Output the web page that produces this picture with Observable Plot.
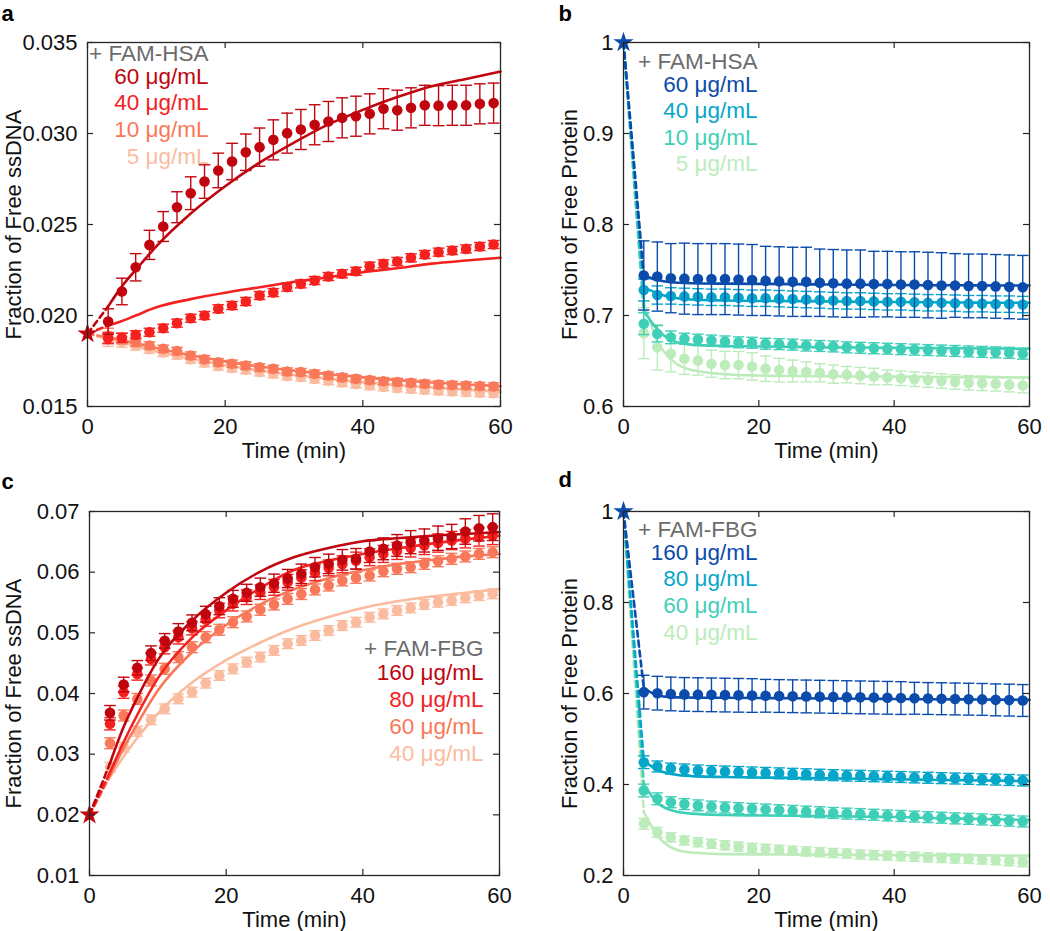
<!DOCTYPE html>
<html><head><meta charset="utf-8">
<script src="https://cdn.jsdelivr.net/npm/d3@7"></script>
<script src="https://cdn.jsdelivr.net/npm/@observablehq/plot@0.6"></script>
<style>
body{margin:0;background:#fff;}
#wrap{position:relative;width:1050px;height:931px;overflow:hidden;}
.pnl{position:absolute;}
</style></head><body><div id="wrap"></div>
<script>
// ---------- shared ----------
const times = [3,5,7,9,11,13,15,17,19,21,23,25,27,29,31,33,35,37,39,41,43,45,47,49,51,53,55,57,59];
const fitTimes = [3,5,7,10,15,20,25,30,35,40,45,50,55,60];
const xTicks = [0,20,40,60];
const redColors = ["#c0050f","#f4211f","#f9785a","#fbbb9f"];
const blueColors = ["#0a4bab","#05a6c9","#3fcfb7","#bdecbb"];
const starRed = "#c0050f", starBlue = "#0a4bab";
const hsaLabels = ["60 μg/mL","40 μg/mL","10 μg/mL","5 μg/mL"];
const fbgLabels = ["160 μg/mL","80 μg/mL","60 μg/mL","40 μg/mL"];

// ---------- panel a : free ssDNA, + FAM-HSA ----------
const aTicks = [0.015,0.02,0.025,0.03,0.035];
const aStart = 0.019;
const a60 = [0.01967,0.02132,0.02265,0.02388,0.02489,0.02595,0.02672,0.02736,0.02797,0.02846,0.02897,0.02925,0.02965,0.03002,0.03022,0.03048,0.03066,0.03086,0.03095,0.03108,0.03136,0.03128,0.03141,0.03155,0.03153,0.03155,0.03155,0.03163,0.03167];
const a60err = [0.0007,0.00073,0.00075,0.0008,0.00082,0.00085,0.0009,0.00092,0.00095,0.001,0.001,0.00105,0.0011,0.0011,0.0011,0.0011,0.0011,0.0011,0.0011,0.0011,0.0011,0.0011,0.0011,0.0011,0.0011,0.0011,0.0011,0.0011,0.0011];
const a60fit = [0.0205,0.0216,0.0225,0.0238,0.0256,0.0271,0.0284,0.0295,0.0305,0.0313,0.0320,0.0326,0.0330,0.0334];
const a40 = [0.01875,0.01877,0.01894,0.01908,0.0193,0.01958,0.01985,0.0200,0.02037,0.02055,0.02077,0.0211,0.02126,0.02156,0.02174,0.02192,0.02214,0.02229,0.02243,0.02271,0.02284,0.02297,0.02317,0.02335,0.02348,0.02357,0.02366,0.02379,0.0239];
const a40err = [0.0003,0.00025,0.00022,0.00022,0.00022,0.00022,0.00022,0.00022,0.00022,0.00022,0.00022,0.00022,0.00022,0.00022,0.00022,0.00022,0.00022,0.00022,0.00022,0.00022,0.00022,0.00022,0.00022,0.00022,0.00022,0.00022,0.00022,0.00022,0.00022];
const a40fit = [0.01945,0.0197,0.0200,0.02045,0.0209,0.02125,0.02155,0.02185,0.0221,0.02238,0.0226,0.02285,0.02302,0.02317];
const a10 = [0.0189,0.01874,0.01855,0.01835,0.01817,0.01805,0.0178,0.0176,0.01743,0.01735,0.01725,0.01715,0.01707,0.01692,0.01689,0.0168,0.0167,0.0166,0.01652,0.01645,0.01639,0.01635,0.0163,0.01625,0.01621,0.01618,0.01615,0.01612,0.0161];
const a10err = [0.0004,0.0003,0.00025,0.0002,0.0002,0.0002,0.0002,0.0002,0.0002,0.0002,0.0002,0.0002,0.0002,0.0002,0.0002,0.0002,0.0002,0.0002,0.0002,0.0002,0.0002,0.0002,0.0002,0.0002,0.0002,0.0002,0.0002,0.0002,0.0002];
const a10fit = [0.0188,0.01865,0.01848,0.01822,0.01782,0.01748,0.0172,0.01697,0.01678,0.0166,0.01645,0.01632,0.01621,0.01612];
const a5 = [0.0187,0.01855,0.01835,0.01815,0.01797,0.01783,0.0176,0.0174,0.01722,0.01712,0.01702,0.0169,0.0168,0.01668,0.01662,0.01652,0.01642,0.01632,0.01624,0.01615,0.01608,0.01602,0.01597,0.01592,0.01587,0.01583,0.01579,0.01576,0.01573];
const a5err = [0.0004,0.0003,0.00025,0.00022,0.00022,0.00022,0.00022,0.00022,0.00022,0.00022,0.00022,0.00022,0.00022,0.00022,0.00022,0.00022,0.00022,0.00022,0.00022,0.00022,0.00022,0.00022,0.00022,0.00022,0.00022,0.00022,0.00022,0.00022,0.00022];
const a5fit = [0.0187,0.01852,0.01832,0.01803,0.01762,0.01727,0.01698,0.01673,0.01652,0.01634,0.01618,0.01604,0.01592,0.0158];

// ---------- panel b : free protein, + FAM-HSA ----------
const bTicks = [0.6,0.7,0.8,0.9,1];
const bStart = 1;
const b60 = [0.744,0.7428,0.741,0.7405,0.740,0.740,0.740,0.7395,0.739,0.738,0.7375,0.737,0.737,0.736,0.7355,0.735,0.735,0.7345,0.7345,0.734,0.734,0.7335,0.733,0.733,0.7325,0.7325,0.732,0.7315,0.731];
const b60err = [0.038,0.038,0.038,0.039,0.039,0.039,0.039,0.039,0.039,0.038,0.038,0.038,0.038,0.037,0.037,0.037,0.037,0.036,0.036,0.036,0.036,0.036,0.036,0.035,0.035,0.035,0.035,0.035,0.035];
const b60fit = [0.744,0.739,0.7366,0.7355,0.735,0.7348,0.7345,0.734,0.7338,0.7335,0.7333,0.7332,0.733,0.733];
const b40 = [0.728,0.7225,0.7215,0.721,0.7205,0.720,0.720,0.7195,0.719,0.719,0.7185,0.718,0.7175,0.717,0.7165,0.716,0.716,0.7155,0.715,0.715,0.7145,0.714,0.714,0.7135,0.713,0.713,0.7125,0.7125,0.712];
const b40err = [0.012,0.01,0.009,0.009,0.009,0.009,0.009,0.009,0.009,0.009,0.009,0.009,0.009,0.009,0.009,0.009,0.009,0.009,0.009,0.009,0.009,0.009,0.009,0.009,0.009,0.009,0.009,0.009,0.009];
const b40fit = [0.731,0.7245,0.720,0.7175,0.7165,0.716,0.7158,0.7155,0.715,0.7148,0.7145,0.7143,0.714,0.714];
const b10 = [0.691,0.68,0.676,0.6745,0.6735,0.6725,0.6715,0.6705,0.670,0.669,0.6685,0.668,0.667,0.6665,0.666,0.665,0.6645,0.664,0.6635,0.663,0.6625,0.662,0.6615,0.661,0.6605,0.660,0.6595,0.659,0.658];
const b10err = [0.012,0.009,0.007,0.006,0.006,0.006,0.006,0.006,0.006,0.006,0.006,0.006,0.006,0.006,0.006,0.006,0.006,0.006,0.006,0.006,0.006,0.006,0.006,0.006,0.006,0.006,0.006,0.006,0.006];
const b10fit = [0.705,0.685,0.673,0.668,0.6665,0.666,0.6655,0.665,0.6648,0.6645,0.6642,0.664,0.6637,0.6634];
const b5 = [0.6806,0.665,0.658,0.6525,0.6505,0.647,0.6455,0.6455,0.644,0.6415,0.640,0.639,0.638,0.637,0.6355,0.635,0.634,0.633,0.632,0.631,0.630,0.629,0.628,0.627,0.626,0.6255,0.625,0.624,0.623];
const b5err = [0.028,0.025,0.02,0.017,0.016,0.015,0.015,0.015,0.015,0.014,0.013,0.012,0.011,0.01,0.01,0.009,0.009,0.009,0.008,0.008,0.008,0.008,0.008,0.008,0.008,0.008,0.008,0.008,0.008];
const b5fit = [0.7146,0.672,0.652,0.640,0.6355,0.634,0.6335,0.6333,0.633,0.6328,0.6325,0.6323,0.632,0.632];

// ---------- panel c : free ssDNA, + FAM-FBG ----------
const cTicks = [0.01,0.02,0.03,0.04,0.05,0.06,0.07];
const cStart = 0.02;
const c160 = [0.03682,0.04148,0.04423,0.04665,0.04868,0.05022,0.05165,0.05308,0.05439,0.0556,0.0566,0.05752,0.05818,0.05895,0.05973,0.06082,0.06137,0.06203,0.0622,0.0634,0.06385,0.0644,0.06495,0.06522,0.0656,0.06588,0.0667,0.06725,0.06742];
const c160err = [0.0012,0.0012,0.0012,0.0012,0.0012,0.0013,0.0013,0.0013,0.0014,0.0014,0.0014,0.0015,0.0015,0.0015,0.0016,0.0016,0.0016,0.0017,0.0017,0.0018,0.0018,0.0018,0.0019,0.0019,0.002,0.002,0.0021,0.0021,0.0022];
const c160fit = [0.0285,0.0345,0.0393,0.0455,0.052,0.0566,0.0601,0.0625,0.064,0.0651,0.0656,0.066,0.0663,0.0666];
const c80 = [0.035,0.0402,0.0432,0.0457,0.04763,0.04927,0.05075,0.0522,0.05368,0.0548,0.05587,0.0567,0.0575,0.05834,0.0591,0.0599,0.0607,0.0613,0.0619,0.06247,0.063,0.0635,0.064,0.0644,0.0648,0.06522,0.0655,0.0658,0.06604];
const c80err = [0.001,0.001,0.001,0.001,0.0011,0.0011,0.0011,0.0011,0.0012,0.0012,0.0012,0.0012,0.0013,0.0013,0.0013,0.0013,0.0013,0.0014,0.0014,0.0014,0.0014,0.0014,0.0015,0.0015,0.0015,0.0015,0.0015,0.0015,0.0015];
const c80fit = [0.027,0.032,0.0365,0.0425,0.0492,0.0537,0.0574,0.0604,0.0619,0.063,0.0639,0.0647,0.0654,0.066];
const c60 = [0.0318,0.03637,0.0391,0.04214,0.04407,0.046,0.04763,0.04928,0.0505,0.05175,0.0527,0.0538,0.05467,0.0556,0.0564,0.05715,0.0578,0.05863,0.05907,0.05945,0.06016,0.06055,0.06082,0.06137,0.0618,0.0622,0.06258,0.06302,0.06329];
const c60err = [0.0009,0.0009,0.0009,0.0009,0.0009,0.0009,0.0009,0.0009,0.0009,0.0009,0.0009,0.0009,0.0009,0.0009,0.0009,0.0009,0.0009,0.0009,0.0009,0.0009,0.0009,0.0009,0.0009,0.0009,0.0009,0.0009,0.0009,0.0009,0.0009];
const c60fit = [0.0265,0.031,0.035,0.0405,0.0468,0.0513,0.0547,0.0572,0.059,0.0603,0.0613,0.062,0.0626,0.063];
const c40 = [0.02784,0.03114,0.03378,0.03566,0.03747,0.03912,0.04022,0.0417,0.04297,0.04407,0.04517,0.046,0.0471,0.0482,0.04874,0.04956,0.05038,0.0512,0.05175,0.05257,0.05312,0.05368,0.05411,0.05467,0.05505,0.05533,0.05577,0.05615,0.05643];
const c40err = [0.0008,0.0008,0.0008,0.0008,0.0008,0.0008,0.0008,0.0008,0.0008,0.0008,0.0008,0.0008,0.0008,0.0008,0.0008,0.0008,0.0008,0.0008,0.0008,0.0008,0.0008,0.0008,0.0008,0.0008,0.0008,0.0008,0.0008,0.0008,0.0008];
const c40fit = [0.0262,0.0296,0.0327,0.0367,0.0418,0.0455,0.0484,0.0508,0.0526,0.0541,0.0552,0.056,0.0566,0.0572];

// ---------- panel d : free protein, + FAM-FBG ----------
const dTicks = [0.2,0.4,0.6,0.8,1];
const dStart = 1;
const d160 = [0.603,0.6007,0.599,0.598,0.5975,0.597,0.5965,0.596,0.5956,0.595,0.5945,0.594,0.5935,0.593,0.5925,0.592,0.5915,0.591,0.5905,0.590,0.5895,0.589,0.5885,0.588,0.5875,0.587,0.586,0.5855,0.5846];
const d160err = [0.037,0.037,0.037,0.037,0.037,0.037,0.037,0.037,0.037,0.036,0.036,0.036,0.036,0.036,0.036,0.036,0.036,0.036,0.036,0.036,0.035,0.035,0.035,0.035,0.035,0.035,0.035,0.035,0.035];
const d160fit = [0.612,0.596,0.592,0.591,0.5905,0.590,0.5895,0.589,0.5885,0.588,0.5875,0.587,0.5865,0.586];
const d80 = [0.449,0.4396,0.435,0.433,0.4308,0.4295,0.4285,0.4275,0.4265,0.4255,0.4245,0.4235,0.4225,0.4215,0.4205,0.4195,0.419,0.418,0.4172,0.4165,0.4155,0.4148,0.414,0.4132,0.4125,0.4115,0.4108,0.41,0.4088];
const d80err = [0.014,0.012,0.012,0.012,0.012,0.012,0.012,0.012,0.012,0.012,0.012,0.012,0.012,0.012,0.012,0.012,0.012,0.012,0.012,0.012,0.012,0.012,0.012,0.012,0.012,0.012,0.012,0.012,0.012];
const d80fit = [0.452,0.432,0.423,0.4185,0.4165,0.4155,0.4145,0.4135,0.4125,0.4115,0.4105,0.4095,0.4085,0.4075];
const d60 = [0.3868,0.3685,0.361,0.357,0.354,0.3515,0.3495,0.348,0.3465,0.345,0.3435,0.342,0.3405,0.339,0.3375,0.336,0.335,0.3335,0.332,0.331,0.3295,0.3283,0.327,0.3255,0.3245,0.3232,0.322,0.3205,0.3187];
const d60err = [0.014,0.013,0.012,0.012,0.012,0.012,0.012,0.012,0.012,0.012,0.012,0.012,0.012,0.012,0.012,0.012,0.012,0.012,0.012,0.012,0.012,0.012,0.012,0.012,0.012,0.012,0.012,0.012,0.012];
const d60fit = [0.40,0.36,0.344,0.336,0.333,0.332,0.3312,0.3305,0.3295,0.3285,0.3265,0.325,0.3235,0.322];
const d40 = [0.3136,0.295,0.2842,0.277,0.273,0.2697,0.2665,0.2635,0.2607,0.2585,0.2565,0.2545,0.2528,0.2512,0.2495,0.248,0.2462,0.2448,0.2435,0.2422,0.241,0.2398,0.2387,0.2375,0.2365,0.2352,0.2338,0.2315,0.2293];
const d40err = [0.012,0.011,0.01,0.01,0.01,0.01,0.01,0.01,0.01,0.01,0.01,0.01,0.01,0.01,0.01,0.01,0.01,0.01,0.01,0.01,0.01,0.01,0.01,0.01,0.01,0.01,0.01,0.01,0.01];
const d40fit = [0.34,0.288,0.262,0.2505,0.247,0.2465,0.246,0.2455,0.245,0.2448,0.2445,0.2443,0.244,0.2438];

// ---------- drawing ----------
const FONT = "'Liberation Sans', Arial, sans-serif";
const AXC = "#262626";
const TXT = "#111";
const GRAY = "#6b6b6b";
const FS = 22, LFS = 22.5;

function panel(cfg) {
  const {letter, left, top, width, height, mL, mR, mT, mB, yDomain, yTicks, yFmt, yLabel,
         start, starColor, series, colors, title, labels, legendDx, legendDy, yLabelX, letterDx, letterDy} = cfg;
  const pw = width - mL - mR, ph = height - mT - mB;
  const marks = [];
  for (let i = series.length - 1; i >= 0; i--) {
    const s = series[i], c = colors[i];
    const pts = times.map((t, j) => ({t, y: s.mean[j], e: s.err[j]}));
    const fit = fitTimes.map((t, j) => ({t, y: s.fit[j]}));
    marks.push(Plot.ruleX(pts, {x: "t", y1: d => d.y - d.e, y2: d => d.y + d.e, stroke: c, strokeWidth: 1.4}));
    marks.push(Plot.link(pts, {x1: d => d.t - 0.85, x2: d => d.t + 0.85, y1: d => d.y + d.e, y2: d => d.y + d.e, stroke: c, strokeWidth: 1.4}));
    marks.push(Plot.link(pts, {x1: d => d.t - 0.85, x2: d => d.t + 0.85, y1: d => d.y - d.e, y2: d => d.y - d.e, stroke: c, strokeWidth: 1.4}));
    marks.push(Plot.dot(pts, {x: "t", y: "y", r: 5.3, fill: c}));
    marks.push(Plot.line([{t: 0, y: start}, fit[0]], {x: "t", y: "y", stroke: c, strokeWidth: 2.6, strokeDasharray: "6,4"}));
    marks.push(Plot.line(fit, {x: "t", y: "y", stroke: c, strokeWidth: 2.6, curve: "monotone-x"}));
  }
  marks.push(Plot.dot([{t: 0, y: start}], {x: "t", y: "y", symbol: "star", r: 6.4, fill: starColor}));
  // frame & inward ticks
  marks.push(Plot.frame({stroke: AXC, strokeWidth: 1.3}));
  marks.push(Plot.tickY(yTicks, {y: d => d, insetRight: pw - 6, stroke: AXC, strokeWidth: 1.2}));
  marks.push(Plot.tickY(yTicks, {y: d => d, insetLeft: pw - 6, stroke: AXC, strokeWidth: 1.2}));
  marks.push(Plot.tickX(xTicks, {x: d => d, insetTop: ph - 6, stroke: AXC, strokeWidth: 1.2}));
  marks.push(Plot.tickX(xTicks, {x: d => d, insetBottom: ph - 6, stroke: AXC, strokeWidth: 1.2}));
  // axes (labels only)
  marks.push(Plot.axisY({ticks: yTicks, tickSize: 0, tickPadding: 10, tickFormat: yFmt, label: null, fontSize: FS, fill: TXT}));
  marks.push(Plot.axisX({ticks: xTicks, tickSize: 0, tickPadding: 12, tickFormat: d => String(d), label: null, fontSize: FS, fill: TXT}));
  // axis titles
  marks.push(Plot.text(["Time (min)"], {text: d => d, frameAnchor: "bottom", dy: 44, lineAnchor: "middle", fontSize: FS, fill: TXT}));
  marks.push(Plot.text([yLabel], {text: d => d, frameAnchor: "left", dx: yLabelX - mL, rotate: -90, textAnchor: "middle", lineAnchor: "middle", fontSize: FS, fill: TXT}));
  // legend
  const rows = [title, ...labels], rowColors = [GRAY, ...colors];
  rows.forEach((txt, i) => marks.push(Plot.text([txt], {text: d => d, frameAnchor: "top-left", dx: legendDx, dy: legendDy[i], textAnchor: "end", lineAnchor: "middle", fill: rowColors[i], fontSize: LFS})));
  // panel letter
  marks.push(Plot.text([letter], {text: d => d, frameAnchor: "top-left", dx: letterDx, dy: letterDy, textAnchor: "start", lineAnchor: "middle", fontWeight: "bold", fontSize: 22, fill: "#000"}));

  const svg = Plot.plot({
    width, height, marginLeft: mL, marginRight: mR, marginTop: mT, marginBottom: mB,
    x: {domain: [0, 60]},
    y: {domain: yDomain},
    style: {fontFamily: FONT, fontSize: FS + "px", background: "transparent", overflow: "visible"},
    marks
  });
  const div = document.createElement("div");
  div.className = "pnl";
  div.style.left = left + "px";
  div.style.top = top + "px";
  div.appendChild(svg);
  document.getElementById("wrap").appendChild(div);
}

const f3 = d3.format(".3f"), f2 = d3.format(".2f");
const f1 = d => String(+d.toFixed(1));

panel({letter: "a", left: 0, top: 0, width: 520, height: 460, mL: 87, mR: 20, mT: 42, mB: 54,
  yDomain: [0.015, 0.035], yTicks: aTicks, yFmt: f3, yLabel: "Fraction of Free ssDNA",
  start: aStart, starColor: starRed, colors: redColors, title: "+ FAM-HSA", labels: hsaLabels,
  series: [{mean: a60, err: a60err, fit: a60fit}, {mean: a40, err: a40err, fit: a40fit}, {mean: a10, err: a10err, fit: a10fit}, {mean: a5, err: a5err, fit: a5fit}],
  legendDx: 121, legendDy: [11, 34, 60, 87, 114], yLabelX: 13, letterDx: -86, letterDy: -29});

panel({letter: "b", left: 520, top: 0, width: 530, height: 460, mL: 103, mR: 21, mT: 42, mB: 54,
  yDomain: [0.6, 1], yTicks: bTicks, yFmt: f1, yLabel: "Fraction of Free Protein",
  start: bStart, starColor: starBlue, colors: blueColors, title: "+ FAM-HSA", labels: hsaLabels,
  series: [{mean: b60, err: b60err, fit: b60fit}, {mean: b40, err: b40err, fit: b40fit}, {mean: b10, err: b10err, fit: b10fit}, {mean: b5, err: b5err, fit: b5fit}],
  legendDx: 134, legendDy: [19, 42, 68, 95, 121], yLabelX: 49, letterDx: -65, letterDy: -29});

panel({letter: "c", left: 0, top: 460, width: 520, height: 471, mL: 89, mR: 21, mT: 51, mB: 56,
  yDomain: [0.01, 0.07], yTicks: cTicks, yFmt: f2, yLabel: "Fraction of Free ssDNA",
  start: cStart, starColor: starRed, colors: redColors, title: "+ FAM-FBG", labels: fbgLabels,
  series: [{mean: c160, err: c160err, fit: c160fit}, {mean: c80, err: c80err, fit: c80fit}, {mean: c60, err: c60err, fit: c60fit}, {mean: c40, err: c40err, fit: c40fit}],
  legendDx: 394, legendDy: [137, 161, 188, 215, 242], yLabelX: 13, letterDx: -88, letterDy: -30});

panel({letter: "d", left: 520, top: 460, width: 530, height: 471, mL: 103, mR: 21, mT: 51, mB: 56,
  yDomain: [0.2, 1], yTicks: dTicks, yFmt: f1, yLabel: "Fraction of Free Protein",
  start: dStart, starColor: starBlue, colors: blueColors, title: "+ FAM-FBG", labels: fbgLabels,
  series: [{mean: d160, err: d160err, fit: d160fit}, {mean: d80, err: d80err, fit: d80fit}, {mean: d60, err: d60err, fit: d60fit}, {mean: d40, err: d40err, fit: d40fit}],
  legendDx: 134, legendDy: [18, 41, 67, 94, 121], yLabelX: 49, letterDx: -65, letterDy: -32});
</script></body></html>
